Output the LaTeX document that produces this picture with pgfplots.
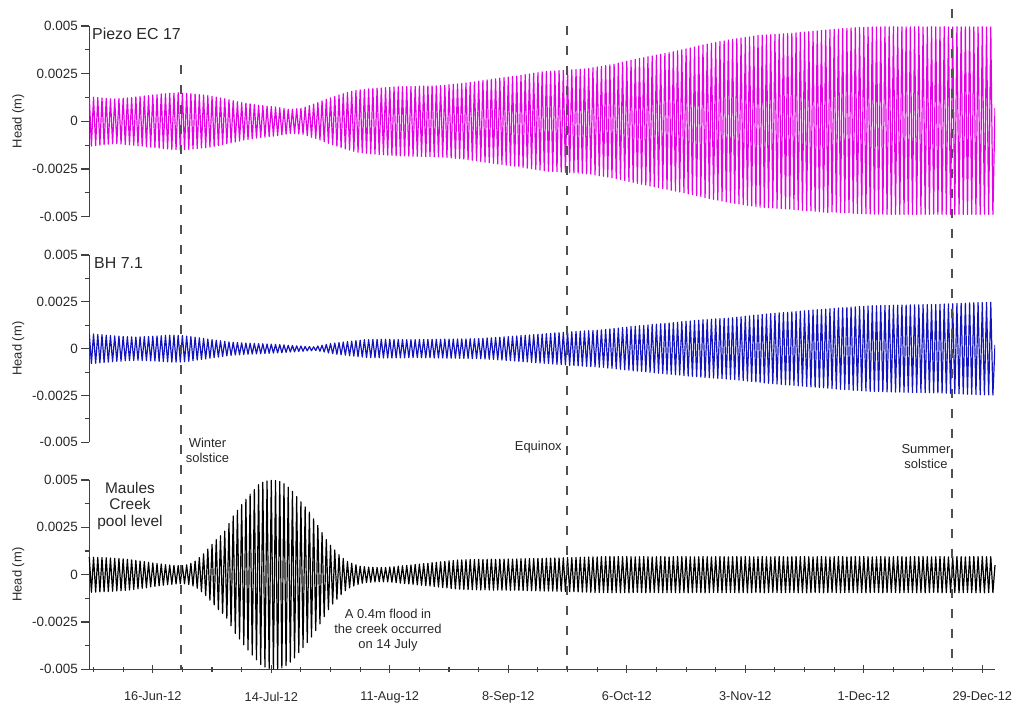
\documentclass[border=0pt]{standalone}
\usepackage{pgfplots}
\pgfplotsset{compat=1.18}
\usepackage{pgfplotstable}
\usepackage{fontspec}
\setmainfont{Liberation Sans}
\definecolor{mag}{RGB}{228,0,228}
\definecolor{bhblue}{RGB}{20,20,190}
\definecolor{dashc}{RGB}{80,80,80}
\definecolor{txt}{RGB}{40,40,40}

% Piezo EC 17 head (mm), one peak and one trough per day, from 1-Jun-12
\pgfplotstableread[row sep=\\,header=false]{
1.30\\-1.30\\1.27\\-1.27\\1.25\\-1.25\\1.22\\-1.22\\1.20\\-1.20\\1.18\\-1.18\\1.17\\-1.17\\
1.19\\-1.19\\1.21\\-1.21\\1.23\\-1.23\\1.25\\-1.25\\1.28\\-1.28\\1.30\\-1.30\\1.33\\-1.33\\
1.35\\-1.35\\1.38\\-1.38\\1.40\\-1.40\\1.43\\-1.43\\1.45\\-1.45\\1.47\\-1.47\\1.48\\-1.48\\
1.50\\-1.50\\1.48\\-1.48\\1.47\\-1.47\\1.45\\-1.45\\1.43\\-1.43\\1.40\\-1.40\\1.38\\-1.38\\
1.35\\-1.35\\1.31\\-1.31\\1.27\\-1.27\\1.22\\-1.22\\1.18\\-1.18\\1.13\\-1.13\\1.08\\-1.08\\
1.03\\-1.03\\0.98\\-0.98\\0.95\\-0.95\\0.92\\-0.92\\0.88\\-0.88\\0.85\\-0.85\\0.83\\-0.83\\
0.80\\-0.80\\0.78\\-0.78\\0.75\\-0.75\\0.71\\-0.71\\0.67\\-0.67\\0.63\\-0.63\\0.64\\-0.64\\
0.66\\-0.66\\0.68\\-0.68\\0.75\\-0.75\\0.83\\-0.83\\0.90\\-0.90\\0.98\\-0.98\\1.07\\-1.07\\
1.15\\-1.15\\1.23\\-1.23\\1.30\\-1.30\\1.38\\-1.38\\1.45\\-1.45\\1.51\\-1.51\\1.57\\-1.57\\
1.62\\-1.62\\1.65\\-1.65\\1.67\\-1.67\\1.70\\-1.70\\1.72\\-1.72\\1.74\\-1.74\\1.75\\-1.75\\
1.77\\-1.77\\1.78\\-1.78\\1.80\\-1.80\\1.81\\-1.81\\1.81\\-1.81\\1.82\\-1.82\\1.83\\-1.83\\
1.83\\-1.83\\1.84\\-1.84\\1.85\\-1.85\\1.85\\-1.85\\1.86\\-1.86\\1.86\\-1.86\\1.87\\-1.87\\
1.89\\-1.89\\1.92\\-1.92\\1.94\\-1.94\\1.96\\-1.96\\1.98\\-1.98\\2.01\\-2.01\\2.04\\-2.04\\
2.07\\-2.07\\2.11\\-2.11\\2.14\\-2.14\\2.17\\-2.17\\2.20\\-2.20\\2.23\\-2.23\\2.26\\-2.26\\
2.29\\-2.29\\2.32\\-2.32\\2.35\\-2.35\\2.38\\-2.38\\2.42\\-2.42\\2.45\\-2.45\\2.48\\-2.48\\
2.52\\-2.52\\2.55\\-2.55\\2.59\\-2.59\\2.62\\-2.62\\2.63\\-2.63\\2.64\\-2.64\\2.66\\-2.66\\
2.67\\-2.67\\2.68\\-2.68\\2.70\\-2.70\\2.72\\-2.72\\2.73\\-2.73\\2.75\\-2.75\\2.77\\-2.77\\
2.81\\-2.81\\2.85\\-2.85\\2.88\\-2.88\\2.92\\-2.92\\2.96\\-2.96\\3.00\\-3.00\\3.05\\-3.05\\
3.10\\-3.10\\3.15\\-3.15\\3.20\\-3.20\\3.25\\-3.25\\3.30\\-3.30\\3.34\\-3.34\\3.39\\-3.39\\
3.43\\-3.43\\3.47\\-3.47\\3.52\\-3.52\\3.56\\-3.56\\3.61\\-3.61\\3.65\\-3.65\\3.70\\-3.70\\
3.75\\-3.75\\3.80\\-3.80\\3.85\\-3.85\\3.90\\-3.90\\3.95\\-3.95\\4.00\\-4.00\\4.05\\-4.05\\
4.09\\-4.09\\4.13\\-4.13\\4.18\\-4.18\\4.22\\-4.22\\4.26\\-4.26\\4.30\\-4.30\\4.33\\-4.33\\
4.37\\-4.37\\4.40\\-4.40\\4.43\\-4.43\\4.47\\-4.47\\4.50\\-4.50\\4.51\\-4.51\\4.53\\-4.53\\
4.54\\-4.54\\4.56\\-4.56\\4.57\\-4.57\\4.59\\-4.59\\4.60\\-4.60\\4.62\\-4.62\\4.64\\-4.64\\
4.66\\-4.66\\4.68\\-4.68\\4.70\\-4.70\\4.72\\-4.72\\4.74\\-4.74\\4.76\\-4.76\\4.78\\-4.78\\
4.80\\-4.75\\4.82\\-4.76\\4.84\\-4.78\\4.86\\-4.79\\4.88\\-4.80\\4.90\\-4.82\\4.91\\-4.83\\
4.92\\-4.84\\4.93\\-4.85\\4.94\\-4.86\\4.95\\-4.87\\4.95\\-4.87\\4.95\\-4.87\\4.96\\-4.88\\
4.95\\-4.88\\4.96\\-4.87\\4.95\\-4.88\\4.95\\-4.88\\4.96\\-4.87\\4.95\\-4.88\\4.95\\-4.88\\
4.96\\-4.87\\4.95\\-4.88\\4.95\\-4.88\\4.96\\-4.87\\4.95\\-4.88\\4.95\\-4.88\\4.96\\-4.87\\
4.95\\-4.88\\4.95\\-4.88\\4.96\\-4.87\\4.95\\-4.88\\4.95\\-4.88\\4.96\\-4.87\\4.95\\-4.88\\
4.95\\-4.88\\4.96\\-4.87\\4.95\\-4.88\\4.95\\-4.88\\0.70\\
}\piezo

% BH 7.1 head (mm)
\pgfplotstableread[row sep=\\,header=false]{
0.80\\-0.80\\0.78\\-0.78\\0.76\\-0.76\\0.74\\-0.74\\0.72\\-0.72\\0.70\\-0.70\\0.68\\-0.68\\
0.67\\-0.67\\0.65\\-0.65\\0.64\\-0.64\\0.63\\-0.63\\0.62\\-0.62\\0.63\\-0.63\\0.64\\-0.64\\
0.65\\-0.65\\0.66\\-0.66\\0.68\\-0.68\\0.69\\-0.69\\0.71\\-0.71\\0.72\\-0.72\\0.72\\-0.72\\
0.71\\-0.71\\0.70\\-0.70\\0.67\\-0.67\\0.64\\-0.64\\0.61\\-0.61\\0.58\\-0.58\\0.55\\-0.55\\
0.51\\-0.51\\0.48\\-0.48\\0.45\\-0.45\\0.42\\-0.42\\0.39\\-0.39\\0.36\\-0.36\\0.34\\-0.34\\
0.33\\-0.33\\0.31\\-0.31\\0.30\\-0.30\\0.29\\-0.29\\0.28\\-0.28\\0.27\\-0.27\\0.26\\-0.26\\
0.25\\-0.25\\0.24\\-0.24\\0.23\\-0.23\\0.22\\-0.22\\0.20\\-0.20\\0.18\\-0.18\\0.17\\-0.17\\
0.15\\-0.15\\0.14\\-0.14\\0.12\\-0.12\\0.11\\-0.11\\0.10\\-0.10\\0.14\\-0.14\\0.18\\-0.18\\
0.23\\-0.23\\0.27\\-0.27\\0.30\\-0.30\\0.33\\-0.33\\0.35\\-0.35\\0.38\\-0.38\\0.40\\-0.40\\
0.43\\-0.43\\0.45\\-0.45\\0.48\\-0.48\\0.48\\-0.48\\0.49\\-0.49\\0.49\\-0.49\\0.50\\-0.50\\
0.50\\-0.50\\0.50\\-0.50\\0.49\\-0.49\\0.49\\-0.49\\0.49\\-0.49\\0.48\\-0.48\\0.48\\-0.48\\
0.48\\-0.48\\0.49\\-0.49\\0.49\\-0.49\\0.49\\-0.49\\0.50\\-0.50\\0.50\\-0.50\\0.50\\-0.50\\
0.51\\-0.51\\0.51\\-0.51\\0.51\\-0.51\\0.52\\-0.52\\0.52\\-0.52\\0.52\\-0.52\\0.53\\-0.53\\
0.53\\-0.53\\0.54\\-0.54\\0.55\\-0.55\\0.57\\-0.57\\0.58\\-0.58\\0.60\\-0.60\\0.61\\-0.61\\
0.63\\-0.63\\0.64\\-0.64\\0.66\\-0.66\\0.68\\-0.68\\0.70\\-0.70\\0.71\\-0.71\\0.73\\-0.73\\
0.75\\-0.75\\0.77\\-0.77\\0.78\\-0.78\\0.80\\-0.80\\0.82\\-0.82\\0.84\\-0.84\\0.85\\-0.85\\
0.87\\-0.87\\0.89\\-0.89\\0.90\\-0.90\\0.92\\-0.92\\0.93\\-0.93\\0.95\\-0.95\\0.96\\-0.96\\
0.97\\-0.97\\0.99\\-0.99\\1.00\\-1.00\\1.03\\-1.03\\1.05\\-1.05\\1.08\\-1.08\\1.10\\-1.10\\
1.13\\-1.13\\1.15\\-1.15\\1.18\\-1.18\\1.20\\-1.20\\1.22\\-1.22\\1.24\\-1.24\\1.26\\-1.26\\
1.29\\-1.29\\1.31\\-1.31\\1.33\\-1.33\\1.35\\-1.35\\1.37\\-1.37\\1.39\\-1.39\\1.41\\-1.41\\
1.44\\-1.44\\1.46\\-1.46\\1.48\\-1.48\\1.50\\-1.50\\1.52\\-1.52\\1.54\\-1.54\\1.55\\-1.55\\
1.57\\-1.57\\1.59\\-1.59\\1.60\\-1.60\\1.62\\-1.62\\1.63\\-1.63\\1.65\\-1.65\\1.68\\-1.68\\
1.70\\-1.70\\1.73\\-1.73\\1.75\\-1.75\\1.78\\-1.78\\1.80\\-1.80\\1.83\\-1.83\\1.85\\-1.85\\
1.87\\-1.87\\1.89\\-1.89\\1.91\\-1.91\\1.93\\-1.93\\1.94\\-1.94\\1.96\\-1.96\\1.98\\-1.98\\
2.00\\-2.00\\2.02\\-2.02\\2.04\\-2.04\\2.06\\-2.06\\2.08\\-2.08\\2.09\\-2.09\\2.11\\-2.11\\
2.13\\-2.13\\2.15\\-2.15\\2.17\\-2.17\\2.18\\-2.18\\2.20\\-2.20\\2.22\\-2.22\\2.23\\-2.23\\
2.25\\-2.25\\2.26\\-2.26\\2.28\\-2.28\\2.29\\-2.29\\2.29\\-2.29\\2.30\\-2.30\\2.31\\-2.31\\
2.31\\-2.31\\2.32\\-2.32\\2.32\\-2.32\\2.33\\-2.33\\2.33\\-2.33\\2.34\\-2.34\\2.34\\-2.34\\
2.34\\-2.34\\2.35\\-2.35\\2.35\\-2.35\\2.36\\-2.36\\2.36\\-2.36\\2.37\\-2.37\\2.38\\-2.38\\
2.39\\-2.39\\2.40\\-2.40\\2.41\\-2.41\\2.42\\-2.42\\2.43\\-2.43\\2.44\\-2.44\\2.45\\-2.45\\
2.46\\-2.46\\2.46\\-2.46\\2.47\\-2.47\\2.48\\-2.48\\0.20\\
}\bhseven

% Maules Creek pool level head (mm)
\pgfplotstableread[row sep=\\,header=false]{
0.93\\-0.93\\0.92\\-0.92\\0.91\\-0.91\\0.90\\-0.90\\0.89\\-0.89\\0.88\\-0.88\\0.86\\-0.86\\
0.85\\-0.85\\0.83\\-0.83\\0.81\\-0.81\\0.78\\-0.78\\0.75\\-0.75\\0.72\\-0.72\\0.69\\-0.69\\
0.65\\-0.65\\0.62\\-0.62\\0.59\\-0.59\\0.56\\-0.56\\0.53\\-0.53\\0.51\\-0.51\\0.49\\-0.49\\
0.48\\-0.48\\0.48\\-0.48\\0.52\\-0.52\\0.60\\-0.60\\0.72\\-0.72\\0.90\\-0.90\\1.10\\-1.10\\
1.35\\-1.35\\1.60\\-1.60\\1.85\\-1.85\\2.05\\-2.05\\2.30\\-2.30\\2.70\\-2.70\\3.10\\-3.10\\
3.40\\-3.40\\3.70\\-3.70\\3.98\\-3.98\\4.25\\-4.25\\4.50\\-4.50\\4.75\\-4.75\\4.88\\-4.88\\
4.95\\-4.95\\4.98\\-4.98\\4.98\\-4.98\\4.92\\-4.92\\4.80\\-4.80\\4.62\\-4.62\\4.40\\-4.40\\
4.12\\-4.12\\3.85\\-3.85\\3.58\\-3.58\\3.30\\-3.30\\2.95\\-2.95\\2.60\\-2.60\\2.22\\-2.22\\
1.85\\-1.85\\1.55\\-1.55\\1.30\\-1.30\\1.05\\-1.05\\0.85\\-0.85\\0.70\\-0.70\\0.60\\-0.60\\
0.52\\-0.52\\0.45\\-0.45\\0.42\\-0.42\\0.40\\-0.40\\0.39\\-0.39\\0.38\\-0.38\\0.38\\-0.38\\
0.38\\-0.38\\0.40\\-0.40\\0.42\\-0.42\\0.45\\-0.45\\0.47\\-0.47\\0.49\\-0.49\\0.51\\-0.51\\
0.54\\-0.54\\0.56\\-0.56\\0.58\\-0.58\\0.60\\-0.60\\0.63\\-0.63\\0.65\\-0.65\\0.68\\-0.68\\
0.70\\-0.70\\0.73\\-0.73\\0.75\\-0.75\\0.77\\-0.77\\0.78\\-0.78\\0.79\\-0.79\\0.80\\-0.80\\
0.80\\-0.80\\0.81\\-0.81\\0.80\\-0.80\\0.81\\-0.81\\0.82\\-0.82\\0.81\\-0.81\\0.82\\-0.82\\
0.82\\-0.82\\0.83\\-0.83\\0.82\\-0.82\\0.83\\-0.83\\0.84\\-0.84\\0.84\\-0.84\\0.85\\-0.85\\
0.85\\-0.85\\0.86\\-0.86\\0.86\\-0.86\\0.87\\-0.87\\0.87\\-0.87\\0.88\\-0.88\\0.88\\-0.88\\
0.89\\-0.89\\0.90\\-0.90\\0.90\\-0.90\\0.91\\-0.91\\0.92\\-0.92\\0.92\\-0.92\\0.93\\-0.93\\
0.94\\-0.94\\0.94\\-0.94\\0.95\\-0.95\\0.95\\-0.95\\0.96\\-0.96\\0.95\\-0.95\\0.96\\-0.96\\
0.95\\-0.95\\0.96\\-0.96\\0.95\\-0.95\\0.94\\-0.94\\0.95\\-0.95\\0.96\\-0.96\\0.95\\-0.95\\
0.94\\-0.94\\0.95\\-0.95\\0.96\\-0.96\\0.95\\-0.95\\0.94\\-0.94\\0.95\\-0.95\\0.96\\-0.96\\
0.95\\-0.95\\0.96\\-0.96\\0.95\\-0.95\\0.94\\-0.94\\0.95\\-0.95\\0.96\\-0.96\\0.95\\-0.95\\
0.94\\-0.94\\0.95\\-0.95\\0.96\\-0.96\\0.95\\-0.95\\0.94\\-0.94\\0.95\\-0.95\\0.96\\-0.96\\
0.95\\-0.95\\0.96\\-0.96\\0.95\\-0.95\\0.94\\-0.94\\0.95\\-0.95\\0.96\\-0.96\\0.95\\-0.95\\
0.94\\-0.94\\0.95\\-0.95\\0.96\\-0.96\\0.95\\-0.95\\0.94\\-0.94\\0.95\\-0.95\\0.96\\-0.96\\
0.95\\-0.95\\0.96\\-0.96\\0.95\\-0.95\\0.94\\-0.94\\0.95\\-0.95\\0.96\\-0.96\\0.95\\-0.95\\
0.94\\-0.94\\0.95\\-0.95\\0.96\\-0.96\\0.95\\-0.95\\0.94\\-0.94\\0.95\\-0.95\\0.96\\-0.96\\
0.95\\-0.95\\0.96\\-0.96\\0.95\\-0.95\\0.94\\-0.94\\0.95\\-0.95\\0.96\\-0.96\\0.95\\-0.95\\
0.94\\-0.94\\0.95\\-0.95\\0.96\\-0.96\\0.95\\-0.95\\0.94\\-0.94\\0.95\\-0.95\\0.96\\-0.96\\
0.95\\-0.95\\0.96\\-0.96\\0.95\\-0.95\\0.94\\-0.94\\0.95\\-0.95\\0.96\\-0.96\\0.95\\-0.95\\
0.94\\-0.94\\0.95\\-0.95\\0.96\\-0.96\\0.95\\-0.95\\0.94\\-0.94\\0.95\\-0.95\\0.96\\-0.96\\
0.95\\-0.95\\0.96\\-0.96\\0.95\\-0.95\\0.95\\-0.95\\0.50\\
}\maules

\pgfplotsset{
  panel/.style={
    scale only axis, width=905.7bp,
    xmin=0, xmax=214, ymin=-5, ymax=5,
    axis y line=left,
    axis line style={-, draw=black!75, line width=1.1bp},
    tick align=outside,
    major tick length=8bp, minor tick length=4.5bp,
    tick style={black!75, line width=1.1bp},
    ytick={-5,-2.5,0,2.5,5},
    yticklabels={-0.005,-0.0025,0,0.0025,0.005},
    minor ytick={-3.75,-1.25,1.25,3.75},
    yticklabel style={font=\fontsize{13.5}{16}\selectfont, text=txt},
    xticklabel style={font=\fontsize{12.8}{15}\selectfont, text=txt, yshift=-15bp},
    ylabel={Head (m)},
    every axis y label/.style={at={(axis description cs:-0.0784,0.5)}, rotate=90, anchor=center, font=\fontsize{13}{15}\selectfont, text=txt},
  },
  sig/.style={line width=1.2bp, line join=round}
}

\begin{document}
\begin{tikzpicture}
\useasboundingbox (0,0) rectangle (1015bp,706bp);

\begin{axis}[panel, at={(89.3bp,489.3bp)}, anchor=south west, height=190.7bp, axis x line=none]
\addplot[sig, mag] table[x expr=\coordindex*0.5, y index=0] {\piezo};
\end{axis}

\begin{axis}[panel, at={(89.3bp,263.7bp)}, anchor=south west, height=187.3bp, axis x line=none]
\addplot[sig, bhblue] table[x expr=\coordindex*0.5, y index=0] {\bhseven};
\end{axis}

\begin{axis}[panel, at={(89.3bp,36.7bp)}, anchor=south west, height=189.3bp,
  axis x line=bottom, clip=false,
  x axis line style={-},
  xtick={15,43,71,99,127,155,183,211},
  xticklabels={16-Jun-12,14-Jul-12,11-Aug-12,8-Sep-12,6-Oct-12,3-Nov-12,1-Dec-12,29-Dec-12},
  minor x tick num=3,
  extra x ticks={1,8},
  extra x tick labels={},
  extra x tick style={major tick length=4.5bp}]
\addplot[sig, black] table[x expr=\coordindex*0.5, y index=0] {\maules};
\draw[dashc, line width=2.2bp, dash pattern=on 9bp off 11bp] (axis cs:21.65,26.9) -- (axis cs:21.65,-5);
\draw[dashc, line width=2.2bp, dash pattern=on 9bp off 11bp] (axis cs:112.9,29.0) -- (axis cs:112.9,-5);
\draw[dashc, line width=2.2bp, dash pattern=on 9bp off 11bp] (axis cs:203.9,29.9) -- (axis cs:203.9,-5);
\end{axis}

\node[anchor=west, inner sep=0pt, text=txt, font=\fontsize{16}{19}\selectfont] at (92bp,671.7bp) {Piezo EC 17};
\node[anchor=west, inner sep=0pt, text=txt, font=\fontsize{16}{19}\selectfont] at (94bp,443.3bp) {BH 7.1};
\node[align=center, inner sep=0pt, text=txt, font=\fontsize{15.5}{17}\selectfont] at (130bp,200bp) {Maules\\Creek\\pool level};
\node[align=center, inner sep=0pt, text=txt, font=\fontsize{13}{15}\selectfont] at (207.5bp,255.2bp) {Winter\\solstice};
\node[align=center, inner sep=0pt, text=txt, font=\fontsize{13}{15}\selectfont] at (538.3bp,258.7bp) {Equinox};
\node[align=center, inner sep=0pt, text=txt, font=\fontsize{13}{15}\selectfont] at (926bp,249bp) {Summer\\solstice};
\node[align=center, inner sep=0pt, text=txt, font=\fontsize{13}{15.4}\selectfont] at (388bp,76bp) {A 0.4m flood in\\the creek occurred\\on 14 July};
\end{tikzpicture}
\end{document}
